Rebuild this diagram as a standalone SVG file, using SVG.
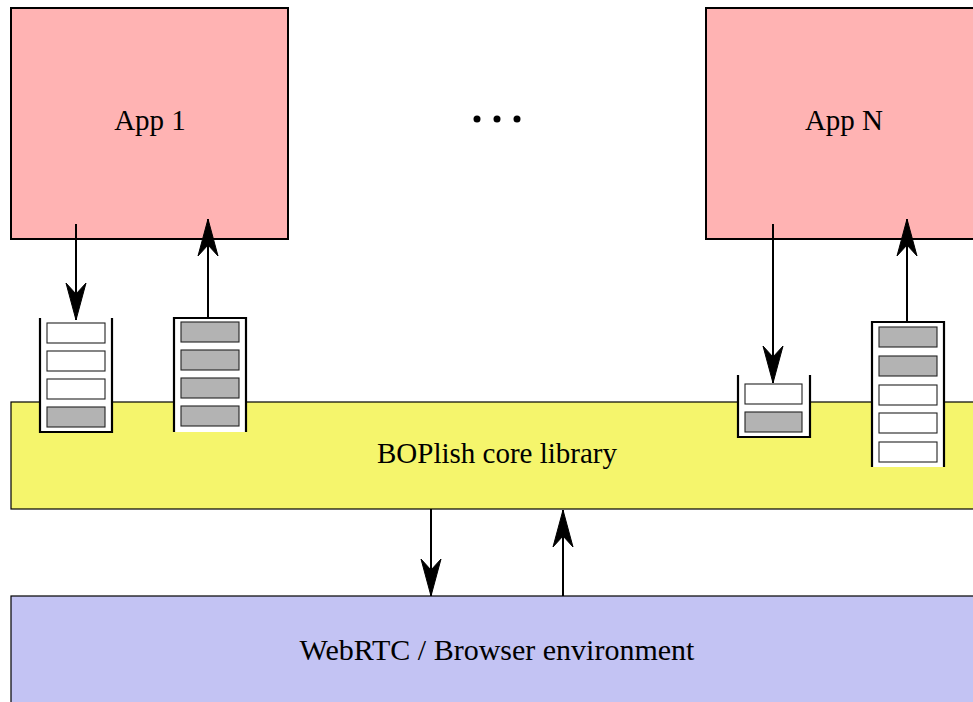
<svg xmlns="http://www.w3.org/2000/svg" width="973" height="702" viewBox="0 0 973 702">
<style>
.app{fill:#ffb3b3;stroke:#000;stroke-width:2}
.core{fill:#f5f56c;stroke:#000;stroke-width:1.2}
.env{fill:#c3c3f3;stroke:#000;stroke-width:1.2}
.q{fill:#fff;stroke:#000;stroke-width:2.2}
.cw{fill:#fff;stroke:#222;stroke-width:1.1}
.cg{fill:#b3b3b3;stroke:#222;stroke-width:1.1}
.lbl{font-family:"Liberation Serif","DejaVu Serif",serif;font-size:29px;fill:#000;text-anchor:middle}
.conn line{stroke:#000;stroke-width:2}
</style>
<defs>
<marker id="ah" viewBox="0 0 38 22" refX="37" refY="11" markerWidth="38" markerHeight="22" markerUnits="userSpaceOnUse" orient="auto">
<path d="M37,11 L0,1 L11,11 L0,21 Z" fill="#000" stroke="#000" stroke-width="1" stroke-linejoin="round"/>
</marker>
</defs>
<rect width="973" height="702" fill="#fff"/>
<g id="core">
<rect class="core" x="11" y="402" width="970" height="107"/>
<text class="lbl" x="497" y="463">BOPlish core library</text>
</g>
<g id="env">
<rect class="env" x="11" y="596" width="970" height="120"/>
<text class="lbl" x="497" y="660" style="font-size:30px">WebRTC / Browser environment</text>
</g>
<g id="app1">
<rect class="app" x="11" y="8" width="277" height="231"/>
<text class="lbl" x="150" y="130">App 1</text>
</g>
<g id="appN">
<rect class="app" x="706" y="8" width="280" height="231"/>
<text class="lbl" x="844" y="130">App N</text>
</g>
<g id="dots">
<circle cx="477" cy="119" r="3.5"/>
<circle cx="497" cy="119" r="3.5"/>
<circle cx="517" cy="119" r="3.5"/>
</g>
<g id="queue1">
<path class="q" d="M40,318 V432 H112 V318"/>
<rect class="cw" x="47" y="323" width="58" height="20"/>
<rect class="cw" x="47" y="351" width="58" height="20"/>
<rect class="cw" x="47" y="379" width="58" height="20"/>
<rect class="cg" x="47" y="407" width="58" height="20"/>
</g>
<g id="queue2">
<path class="q" d="M174,432 V318 H246 V432"/>
<rect class="cg" x="181" y="322" width="58" height="20"/>
<rect class="cg" x="181" y="350" width="58" height="20"/>
<rect class="cg" x="181" y="378" width="58" height="20"/>
<rect class="cg" x="181" y="406" width="58" height="20"/>
</g>
<g id="queue3">
<path class="q" d="M738,375 V437 H810 V375"/>
<rect class="cw" x="745" y="384" width="57" height="20"/>
<rect class="cg" x="745" y="412" width="57" height="20"/>
</g>
<g id="queue4">
<path class="q" d="M872,467 V322 H944 V467"/>
<rect class="cg" x="879" y="327" width="58" height="20"/>
<rect class="cg" x="879" y="356" width="58" height="20"/>
<rect class="cw" x="879" y="385" width="58" height="20"/>
<rect class="cw" x="879" y="413" width="58" height="20"/>
<rect class="cw" x="879" y="442" width="58" height="20"/>
</g>
<g id="connectors" class="conn">
<line x1="76" y1="224" x2="76" y2="320" marker-end="url(#ah)"/>
<line x1="208" y1="318" x2="208" y2="219" marker-end="url(#ah)"/>
<line x1="773" y1="224" x2="773" y2="383" marker-end="url(#ah)"/>
<line x1="907" y1="322" x2="907" y2="219" marker-end="url(#ah)"/>
<line x1="431" y1="509" x2="431" y2="596" marker-end="url(#ah)"/>
<line x1="563" y1="596" x2="563" y2="510" marker-end="url(#ah)"/>
</g>
</svg>
